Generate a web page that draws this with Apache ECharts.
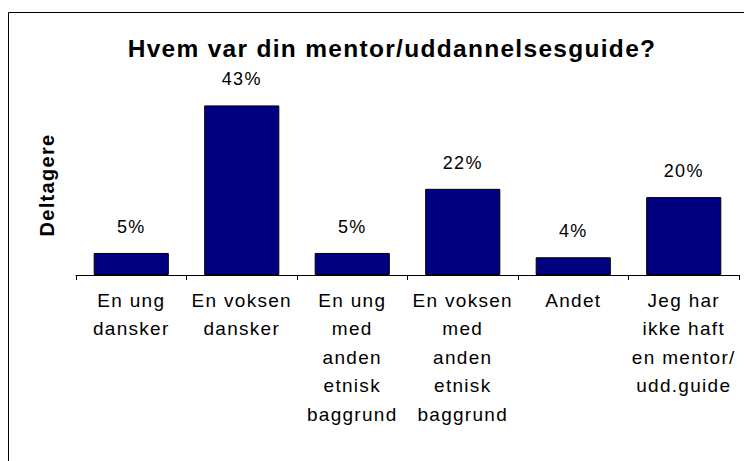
<!DOCTYPE html>
<html>
<head>
<meta charset="utf-8">
<script src="https://cdn.jsdelivr.net/npm/echarts@6/dist/echarts.min.js"></script>
<style>
html,body{margin:0;padding:0;background:#fff}
#c{width:744px;height:461px}
#c text{letter-spacing:1.3px}
</style>
</head>
<body>
<div id="c"></div>
<script>
var titleText = "Hvem var din mentor/uddannelsesguide?";
var yAxisName = "Deltagere";
var categories = [
  "En ung\ndansker",
  "En voksen\ndansker",
  "En ung\nmed\nanden\netnisk\nbaggrund",
  "En voksen\nmed\nanden\netnisk\nbaggrund",
  "Andet",
  "Jeg har\nikke haft\nen mentor/\nudd.guide"
];
var values = [5.6, 43.1, 5.6, 21.9, 4.5, 19.8];
var valueLabels = ["5%", "43%", "5%", "22%", "4%", "20%"];

var chart = echarts.init(document.getElementById('c'), null, {renderer: 'svg'});
chart.setOption({
  animation: false,
  backgroundColor: '#fff',
  textStyle: {fontFamily: 'Liberation Sans, Arial, sans-serif'},
  title: {
    text: titleText,
    left: 387, top: 31, textAlign: 'center',
    textStyle: {fontSize: 24.5, fontWeight: 'bold', color: '#000', fontFamily: 'Liberation Sans'}
  },
  graphic: [
    {type: 'rect', shape: {x: 8.5, y: 12.5, width: 800, height: 600},
     style: {fill: 'none', stroke: '#000', lineWidth: 1}, z: 100},
    {type: 'text', x: 47, y: 185, rotation: Math.PI / 2,
     style: {text: yAxisName, fontSize: 20, fontWeight: 'bold', fill: '#000',
             fontFamily: 'Liberation Sans', align: 'center', verticalAlign: 'middle'}}
  ],
  grid: {left: 76, right: 5, top: 58.6, bottom: 186, containLabel: false},
  xAxis: {
    type: 'category',
    data: categories,
    axisLine: {show: true, lineStyle: {color: '#000', width: 1}},
    axisTick: {show: true, length: 5, lineStyle: {color: '#000'}},
    axisLabel: {interval: 0, margin: 11, fontSize: 19, lineHeight: 28.5, color: '#000',
                fontFamily: 'Liberation Sans', align: 'center'}
  },
  yAxis: {
    type: 'value', min: 0, max: 55,
    axisLine: {show: false}, axisTick: {show: false},
    axisLabel: {show: false}, splitLine: {show: false}
  },
  series: [{
    type: 'bar',
    data: values,
    barCategoryGap: '32%',
    itemStyle: {color: '#000080', borderColor: '#000', borderWidth: 1},
    label: {
      show: true, position: 'top', distance: 17,
      fontSize: 18, color: '#000', fontFamily: 'Liberation Sans',
      formatter: function (p) { return valueLabels[p.dataIndex]; }
    }
  }]
});
</script>
</body>
</html>
